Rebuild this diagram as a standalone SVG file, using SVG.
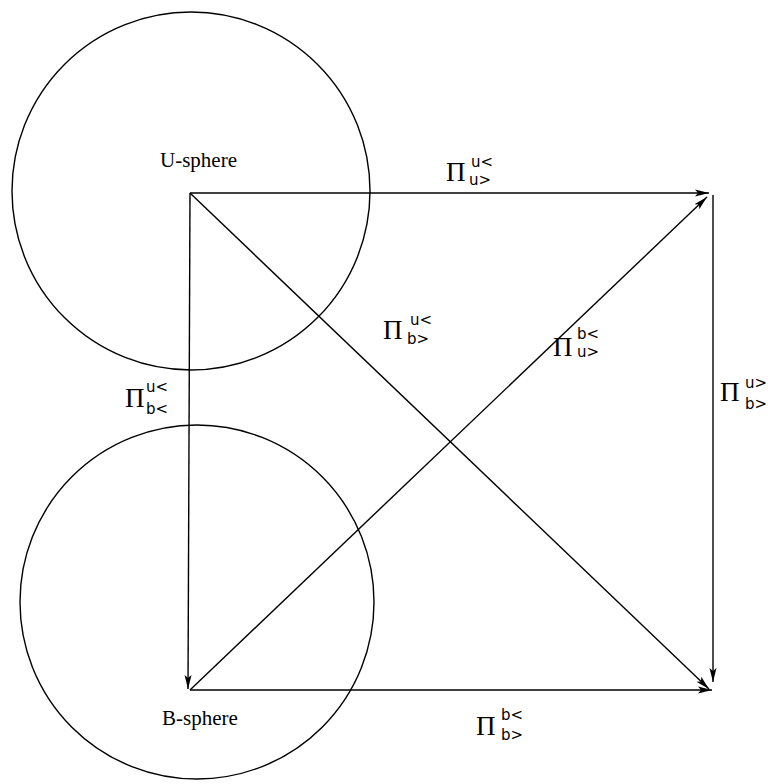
<svg xmlns="http://www.w3.org/2000/svg" width="768" height="784" viewBox="0 0 768 784">
<defs>
<marker id="ah" viewBox="0 0 14 8" refX="14" refY="4" markerWidth="14" markerHeight="8" markerUnits="userSpaceOnUse" orient="auto">
<path d="M0,0.5 L14,4 L0,7.5 L3,4 Z" fill="#000"/>
</marker>
</defs>
<style>
.c{fill:none;stroke:#000;stroke-width:1.4}
.e{fill:none;stroke:#000;stroke-width:1.4;marker-end:url(#ah)}
.t{font-family:"Liberation Serif","Times New Roman",serif;fill:#000}
.p{font-size:27px}
.s{font-family:"DejaVu Sans","Liberation Sans",sans-serif;font-size:15px;fill:#000}
.lab{font-size:21px}
</style>
<rect width="768" height="784" fill="#fff"/>
<g id="u-sphere">
<circle class="c" cx="191" cy="191" r="179"/>
<text class="t lab" x="160" y="167">U-sphere</text>
</g>
<g id="b-sphere">
<circle class="c" cx="197" cy="602" r="177"/>
<text class="t lab" x="162" y="725">B-sphere</text>
</g>
<g id="connectors">
<line class="e" x1="190" y1="193" x2="709" y2="193"/>
<line class="e" x1="190" y1="193" x2="188" y2="689"/>
<line class="e" x1="190" y1="690" x2="712" y2="690"/>
<line class="e" x1="713" y1="195" x2="713" y2="682"/>
<line class="e" x1="190" y1="193" x2="709" y2="689"/>
<line class="e" x1="190" y1="690" x2="707" y2="197"/>
</g>
<g id="label-uu">
<text class="t p" x="446" y="181">Π</text>
<text class="s" x="471" y="167">u&lt;</text>
<text class="s" x="469" y="185">u&gt;</text>
</g>
<g id="label-ub-left">
<text class="t p" x="125" y="407">Π</text>
<text class="s" x="146" y="392">u&lt;</text>
<text class="s" x="146" y="414">b&lt;</text>
</g>
<g id="label-ub-center">
<text class="t p" x="383" y="339">Π</text>
<text class="s" x="410" y="325">u&lt;</text>
<text class="s" x="407" y="344">b&gt;</text>
</g>
<g id="label-bu">
<text class="t p" x="553" y="356">Π</text>
<text class="s" x="577" y="339">b&lt;</text>
<text class="s" x="577" y="357">u&gt;</text>
</g>
<g id="label-ub-right">
<text class="t p" x="720" y="401">Π</text>
<text class="s" x="745" y="388">u&gt;</text>
<text class="s" x="745" y="409">b&gt;</text>
</g>
<g id="label-bb">
<text class="t p" x="476" y="735">Π</text>
<text class="s" x="501" y="720">b&lt;</text>
<text class="s" x="501" y="740">b&gt;</text>
</g>
</svg>
